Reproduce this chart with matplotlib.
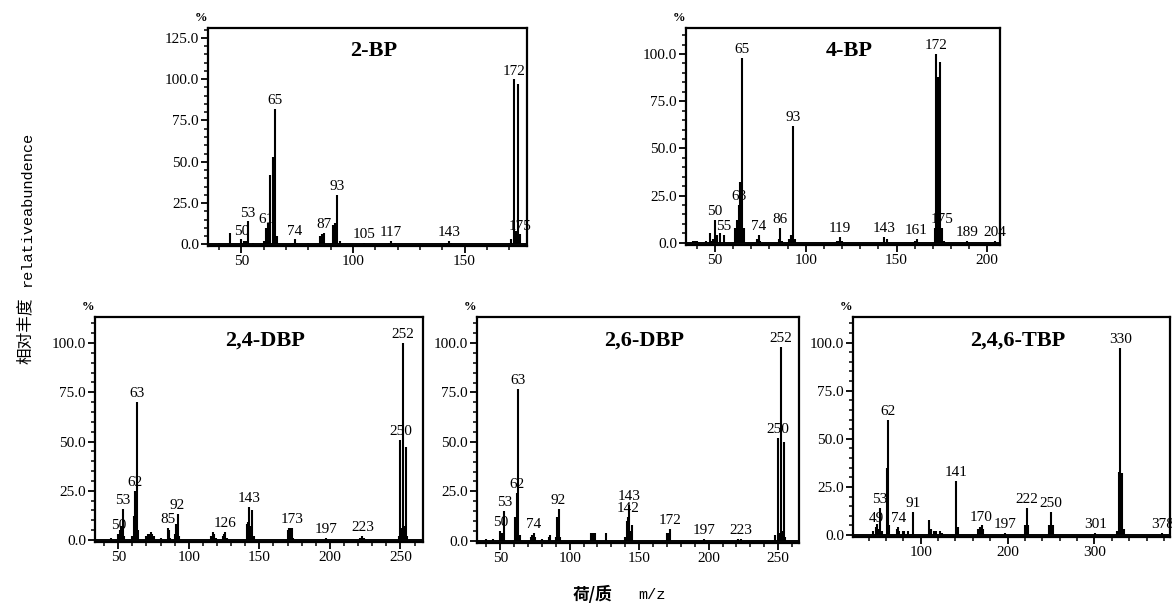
import matplotlib
matplotlib.use("Agg")
import matplotlib.pyplot as plt
from matplotlib.ticker import MultipleLocator, FormatStrFormatter

# ---- data (m/z, relative abundance %) ----
BP2_MZ = [40, 45, 50, 51, 52, 53, 55, 60, 61, 62, 63, 64, 65, 66, 73, 74, 75, 80,
          85, 86, 87, 91, 92, 93, 94, 105, 116, 117, 119, 142, 143, 144, 170, 171,
          172, 173, 174, 175]
BP2_AB = [1, 7, 3, 2, 2, 14, 1, 2, 10, 13, 42, 53, 82, 5, 1, 3, 1, 1,
          5, 6, 7, 12, 13, 30, 2, 1, 1, 2, 1, 1, 2, 1, 1, 3,
          100, 8, 97, 6]
BP2_LABELS = [50, 53, 61, 65, 74, 87, 93, 105, 117, 143, 172, 175]

BP4_MZ = [38, 39, 40, 45, 47, 48, 49, 50, 51, 53, 55, 61, 62, 63, 64, 65, 66, 73,
          74, 75, 85, 86, 87, 91, 92, 93, 94, 117, 118, 119, 120, 143, 145, 160,
          161, 171, 172, 173, 174, 175, 176, 189, 204]
BP4_AB = [1, 1, 1, 1, 5, 1, 2, 12, 4, 5, 4, 8, 12, 20, 32, 98, 8, 2,
          4, 1, 2, 8, 1, 2, 4, 62, 2, 1, 1, 3, 1, 3, 2, 1,
          2, 8, 100, 88, 96, 8, 1, 1, 1]
BP4_LABELS = [50, 55, 63, 65, 74, 86, 93, 119, 143, 161, 172, 175, 189, 204]

DBP24_MZ = [45, 50, 51, 52, 53, 54, 60, 61, 62, 63, 64, 70, 71, 72, 73, 74, 75, 80,
            85, 86, 87, 90, 91, 92, 93, 116, 117, 118, 119, 124, 125, 126, 127,
            141, 142, 143, 144, 145, 146, 170, 171, 172, 173, 174, 197, 221, 222,
            223, 224, 249, 250, 251, 252, 253, 254, 255]
DBP24_AB = [1, 3, 5, 7, 16, 2, 2, 12, 25, 70, 5, 2, 3, 3, 4, 3, 2, 1,
            6, 5, 1, 3, 8, 13, 2, 2, 4, 3, 1, 2, 3, 4, 1,
            8, 9, 17, 7, 15, 2, 5, 6, 6, 6, 1, 1, 1, 1,
            2, 1, 2, 51, 6, 100, 7, 47, 2]
DBP24_LABELS = [50, 53, 62, 63, 85, 92, 126, 143, 173, 197, 223, 250, 252]

DBP26_MZ = [40, 45, 50, 51, 52, 53, 61, 62, 63, 64, 72, 73, 74, 75, 80, 85, 86, 90,
            91, 92, 93, 115, 116, 117, 118, 126, 140, 141, 142, 143, 144, 145, 170,
            171, 172, 197, 221, 223, 248, 250, 251, 252, 253, 254, 255]
DBP26_AB = [1, 1, 5, 4, 3, 15, 12, 24, 77, 3, 2, 3, 4, 2, 1, 2, 3, 2,
            12, 16, 2, 4, 4, 4, 4, 4, 2, 10, 12, 18, 5, 8, 4,
            4, 6, 1, 1, 1, 3, 52, 4, 98, 5, 50, 2]
DBP26_LABELS = [50, 53, 62, 63, 74, 92, 142, 143, 172, 197, 223, 250, 252]

TBP_MZ = [45, 49, 50, 51, 53, 55, 61, 62, 63, 73, 74, 75, 79, 81, 85, 91, 110, 112,
          115, 118, 122, 125, 141, 142, 143, 166, 168, 170, 172, 197, 220, 222,
          224, 248, 250, 252, 301, 326, 328, 329, 330, 331, 332, 334, 378]
TBP_AB = [2, 4, 6, 3, 14, 2, 35, 60, 5, 3, 4, 2, 2, 2, 2, 12, 8, 3,
          2, 2, 2, 1, 28, 3, 4, 3, 4, 5, 3, 1, 5, 14,
          5, 5, 12, 5, 1, 2, 33, 3, 97, 4, 32, 3, 1]
TBP_LABELS = [49, 53, 62, 74, 91, 141, 170, 197, 222, 250, 301, 330, 378]

PANELS = [
    ("2-BP", BP2_MZ, BP2_AB, BP2_LABELS),
    ("4-BP", BP4_MZ, BP4_AB, BP4_LABELS),
    ("2,4-DBP", DBP24_MZ, DBP24_AB, DBP24_LABELS),
    ("2,6-DBP", DBP26_MZ, DBP26_AB, DBP26_LABELS),
    ("2,4,6-TBP", TBP_MZ, TBP_AB, TBP_LABELS),
]

# layout in pixels: left, right, top, bottom ; axis limits ; tick steps
W, H = 1172, 607
LAYOUT = {
    "2-BP": dict(px=(208, 527, 28, 246), xlim=(35, 178), ylim=(-1, 131),
                 ymax_tick=125, xmaj=50, xmin=10),
    "4-BP": dict(px=(686, 1000, 28, 244.6), xlim=(34, 207), ylim=(-1, 113.8),
                 ymax_tick=100, xmaj=50, xmin=10),
    "2,4-DBP": dict(px=(95, 423, 317, 542), xlim=(33.5, 266), ylim=(-1, 113.2),
                    ymax_tick=100, xmaj=50, xmin=10),
    "2,6-DBP": dict(px=(477, 799, 317, 542.7), xlim=(33.3, 265), ylim=(-1, 113.2),
                    ymax_tick=100, xmaj=50, xmin=10),
    "2,4,6-TBP": dict(px=(853, 1170, 317, 537), xlim=(22, 387), ylim=(-1, 113.3),
                      ymax_tick=100, xmaj=100, xmin=20),
}

SERIF = "Liberation Serif"

fig = plt.figure(figsize=(W / 100, H / 100), dpi=100)
fig.patch.set_facecolor("white")

for name, mz, ab, labels in PANELS:
    cfg = LAYOUT[name]
    left, right, top, bottom = cfg["px"]
    ax = fig.add_axes([left / W, 1 - bottom / H, (right - left) / W, (bottom - top) / H])
    ax.set_xlim(*cfg["xlim"])
    ax.set_ylim(*cfg["ylim"])

    ax.vlines(mz, 0, ab, color="black", linewidth=1.5, zorder=3)
    ax.axhline(0, color="black", linewidth=1.4, zorder=3)

    lookup = dict(zip(mz, ab))
    for m in labels:
        ax.text(m, lookup.get(m, 0) + 1.0, str(m), ha="center", va="bottom",
                fontsize=11, family=SERIF, color="black", zorder=2)

    ax.text(0.52, 0.94, name, transform=ax.transAxes, ha="center", va="top",
            fontsize=16, fontweight="bold", family=SERIF)
    ax.annotate("%", xy=(0, 1), xycoords="axes fraction", xytext=(-5, 3),
                textcoords="offset points", ha="center", va="bottom",
                fontsize=9, fontweight="bold", family=SERIF)

    ax.yaxis.set_major_locator(MultipleLocator(25))
    ax.yaxis.set_minor_locator(MultipleLocator(5))
    ax.yaxis.set_major_formatter(FormatStrFormatter("%.1f"))
    ax.set_yticks([t for t in range(0, cfg["ymax_tick"] + 1, 25)])
    ax.xaxis.set_major_locator(MultipleLocator(cfg["xmaj"]))
    ax.xaxis.set_minor_locator(MultipleLocator(cfg["xmin"]))
    ax.tick_params(axis="both", which="major", direction="out", length=5,
                   width=1.3, labelsize=11, pad=1.5)
    ax.tick_params(axis="both", which="minor", direction="out", length=3, width=1.1)
    for lab in ax.get_xticklabels() + ax.get_yticklabels():
        lab.set_family(SERIF)
    for side in ("left", "right", "top", "bottom"):
        ax.spines[side].set_linewidth(1.6)

# axis titles
fig.text(25 / W, 1 - 331 / H, "相对丰度", rotation=90, ha="center", va="center",
         fontsize=12, family=["Noto Sans CJK SC", "DejaVu Sans"])
fig.text(27 / W, 1 - 209 / H, "relativeabundence", rotation=90, ha="center",
         va="center", fontsize=11, family="Liberation Mono")
fig.text(592 / W, 1 - 595 / H, "荷/质", ha="center", va="center", fontsize=12,
         fontweight="bold", family=["Noto Sans CJK SC", "DejaVu Sans"])
fig.text(652 / W, 1 - 595 / H, "m/z", ha="center", va="center", fontsize=11,
         family="Liberation Mono")

fig.savefig("out.png", dpi=100)
